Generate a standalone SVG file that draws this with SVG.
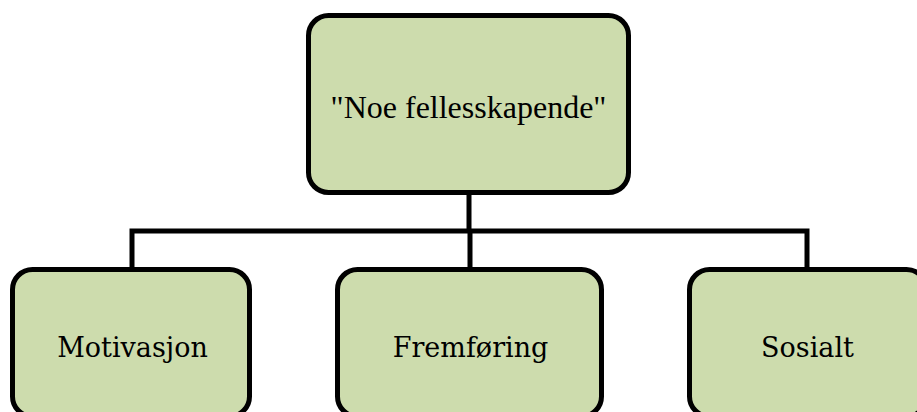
<svg xmlns="http://www.w3.org/2000/svg" width="917" height="412" viewBox="0 0 917 412">
<style>
.box{fill:#cddcad;stroke:#000;stroke-width:5}
.conn{fill:none;stroke:#000;stroke-width:5;stroke-linecap:square}
.t1{font-family:"Liberation Serif","Times New Roman",serif;font-size:32px;fill:#000;text-anchor:middle}
.t2{font-family:"DejaVu Serif","Liberation Serif",serif;font-size:27px;fill:#000;text-anchor:middle}
</style>
<rect width="917" height="412" fill="#fff"/>
<g id="connectors">
<path class="conn" d="M469 193 V231 M132 268 V231 H807 V268 M470 231 V268"/>
</g>
<g id="top">
<rect class="box" x="308.5" y="15.5" width="320" height="177" rx="20"/>
<text class="t1" x="468.5" y="118">"Noe fellesskapende"</text>
</g>
<g id="motivasjon">
<rect class="box" x="12.5" y="269.5" width="237" height="147" rx="20"/>
<text class="t2" x="132.5" y="357">Motivasjon</text>
</g>
<g id="fremforing">
<rect class="box" x="337.5" y="269.5" width="264" height="147" rx="20"/>
<text class="t2" x="470.5" y="357">Fremføring</text>
</g>
<g id="sosialt">
<rect class="box" x="689.5" y="269.5" width="237" height="147" rx="20"/>
<text class="t2" x="807.5" y="357">Sosialt</text>
</g>
</svg>
